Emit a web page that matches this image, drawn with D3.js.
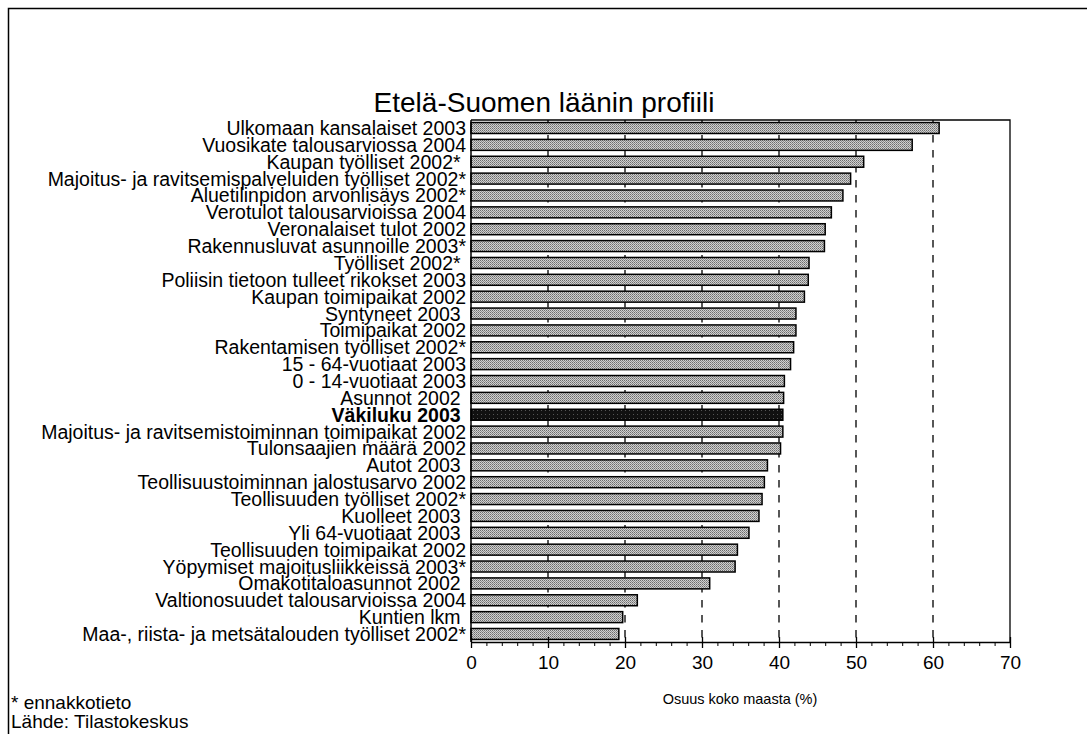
<!DOCTYPE html>
<html>
<head>
<meta charset="utf-8">
<script src="https://cdn.jsdelivr.net/npm/d3@7"></script>
<style>
  html, body { margin: 0; padding: 0; background: #fff; }
  svg { display: block; font-family: "Liberation Sans", Arial, Helvetica, sans-serif; }
  text { white-space: pre; }
</style>
</head>
<body>
<svg id="chart" width="1087" height="734"></svg>
<script>
// Categories, top to bottom
const categories = [
  "Ulkomaan kansalaiset 2003",
  "Vuosikate talousarviossa 2004",
  "Kaupan työlliset 2002* ",
  "Majoitus- ja ravitsemispalveluiden työlliset 2002*",
  "Aluetilinpidon arvonlisäys 2002*",
  "Verotulot talousarvioissa 2004",
  "Veronalaiset tulot 2002",
  "Rakennusluvat asunnoille 2003*",
  "Työlliset 2002* ",
  "Poliisin tietoon tulleet rikokset 2003",
  "Kaupan toimipaikat 2002",
  "Syntyneet 2003 ",
  "Toimipaikat 2002",
  "Rakentamisen työlliset 2002*",
  "15 - 64-vuotiaat 2003",
  "0 - 14-vuotiaat 2003",
  "Asunnot 2002 ",
  "Väkiluku 2003 ",
  "Majoitus- ja ravitsemistoiminnan toimipaikat 2002",
  "Tulonsaajien määrä 2002",
  "Autot 2003 ",
  "Teollisuustoiminnan jalostusarvo 2002",
  "Teollisuuden työlliset 2002*",
  "Kuolleet 2003 ",
  "Yli 64-vuotiaat 2003 ",
  "Teollisuuden toimipaikat 2002",
  "Yöpymiset majoitusliikkeissä 2003*",
  "Omakotitaloasunnot 2002 ",
  "Valtionosuudet talousarvioissa 2004",
  "Kuntien lkm ",
  "Maa-, riista- ja metsätalouden työlliset 2002*"
];

// Share of the whole country (%)
const values = [
  60.8, 57.3, 51.0, 49.3, 48.3, 46.8, 46.0, 45.9, 43.9, 43.8,
  43.3, 42.2, 42.2, 41.9, 41.5, 40.7, 40.6, 40.5, 40.5, 40.2,
  38.5, 38.1, 37.8, 37.4, 36.1, 34.6, 34.3, 31.0, 21.6, 19.7,
  19.2
];

// The reference row drawn in a dark fill
const highlight = "Väkiluku 2003 ";

const majorTicks = [0, 10, 20, 30, 40, 50, 60, 70];
const gridTicks = [10, 20, 30, 40, 50, 60];
const minorTicks = d3.range(0, 71, 2);

const titleText = "Etelä-Suomen läänin profiili";
const axisTitle = "Osuus koko maasta (%)";
const notes = ["* ennakkotieto", "Lähde: Tilastokeskus"];

const svg = d3.select("#chart");

// Tile patterns for the stippled bar fills
const defs = svg.append("defs");
const pat = defs.append("pattern")
  .attr("id", "stipple").attr("width", 2).attr("height", 2)
  .attr("patternUnits", "userSpaceOnUse");
pat.append("rect").attr("width", 2).attr("height", 2).attr("fill", "#d0d0d0");
pat.append("rect").attr("width", 1).attr("height", 1).attr("fill", "#6c6c6c");
pat.append("rect").attr("x", 1).attr("y", 1).attr("width", 1).attr("height", 1).attr("fill", "#8e8e8e");

const patDark = defs.append("pattern")
  .attr("id", "stippleDark").attr("width", 4).attr("height", 4)
  .attr("patternUnits", "userSpaceOnUse");
patDark.append("rect").attr("width", 4).attr("height", 4).attr("fill", "#111");
patDark.append("rect").attr("x", 1).attr("y", 2).attr("width", 1).attr("height", 1).attr("fill", "#555");

// Outer frame
svg.append("rect")
  .attr("x", 8.5).attr("y", 8.5).attr("width", 1090).attr("height", 740)
  .attr("fill", "none").attr("stroke", "#000").attr("stroke-width", 1.5);

const plot = { left: 471, right: 1010, top: 120, bottom: 642 };

const x = d3.scaleLinear().domain([0, 70]).range([plot.left, plot.right]);
const y = d3.scaleBand().domain(categories).range([plot.top, plot.bottom])
  .paddingInner(0.35).paddingOuter(0.15);

// Title
svg.append("text")
  .attr("x", 544).attr("y", 112)
  .attr("text-anchor", "middle").attr("font-size", 28).attr("fill", "#000")
  .text(titleText);

// Dashed gridlines
svg.append("g").selectAll("line").data(gridTicks).join("line")
  .attr("x1", d => x(d)).attr("x2", d => x(d))
  .attr("y1", plot.top).attr("y2", plot.bottom)
  .attr("stroke", "#111").attr("stroke-width", 1.4)
  .attr("stroke-dasharray", "7.5,7.5");

// Plot frame (top and right)
svg.append("path")
  .attr("d", `M${plot.left},${plot.top}H${plot.right}V${plot.bottom}`)
  .attr("fill", "none").attr("stroke", "#000").attr("stroke-width", 1.3);

// Bars
svg.append("g").selectAll("rect").data(categories).join("rect")
  .attr("x", x(0))
  .attr("y", d => y(d))
  .attr("width", (d, i) => x(values[i]) - x(0))
  .attr("height", y.bandwidth())
  .attr("fill", d => d === highlight ? "url(#stippleDark)" : "url(#stipple)")
  .attr("stroke", "#000").attr("stroke-width", 1.5);

// Category labels
svg.append("g").selectAll("text").data(categories).join("text")
  .attr("x", 466)
  .attr("y", d => y(d) + y.bandwidth() / 2)
  .attr("dy", "0.36em")
  .attr("text-anchor", "end")
  .attr("font-size", 19.5)
  .attr("font-weight", d => d === highlight ? "bold" : "normal")
  .attr("fill", "#000")
  .text(d => d);

// Left axis line
svg.append("line")
  .attr("x1", plot.left).attr("x2", plot.left)
  .attr("y1", plot.top).attr("y2", plot.bottom)
  .attr("stroke", "#000").attr("stroke-width", 1.5);

// Bottom axis: minor ticks
const minorAxis = svg.append("g")
  .attr("transform", `translate(0,${plot.bottom})`)
  .call(d3.axisBottom(x).tickValues(minorTicks).tickSize(4).tickFormat(""));
minorAxis.select(".domain").remove();
minorAxis.selectAll(".tick line").attr("stroke", "#000").attr("stroke-width", 1);

// Bottom axis: major ticks and labels
const majorAxis = svg.append("g")
  .attr("transform", `translate(0,${plot.bottom})`)
  .call(d3.axisBottom(x).tickValues(majorTicks).tickSize(5).tickSizeOuter(0).tickPadding(9).tickFormat(d3.format("d")));
majorAxis.select(".domain").attr("stroke", "#000").attr("stroke-width", 1.5);
majorAxis.selectAll(".tick line")
  .attr("y1", -5).attr("y2", 6)
  .attr("stroke", "#000").attr("stroke-width", 1.3);
majorAxis.selectAll(".tick text")
  .attr("font-size", 19)
  .attr("font-family", "'Liberation Sans', Arial, sans-serif")
  .attr("fill", "#000");

// Axis title
svg.append("text")
  .attr("x", 740).attr("y", 704)
  .attr("text-anchor", "middle").attr("font-size", 14.5).attr("fill", "#000")
  .text(axisTitle);

// Footnotes
svg.append("g").selectAll("text").data(notes).join("text")
  .attr("x", 11)
  .attr("y", (d, i) => 709 + i * 19)
  .attr("font-size", 19).attr("fill", "#000")
  .text(d => d);
</script>
</body>
</html>
